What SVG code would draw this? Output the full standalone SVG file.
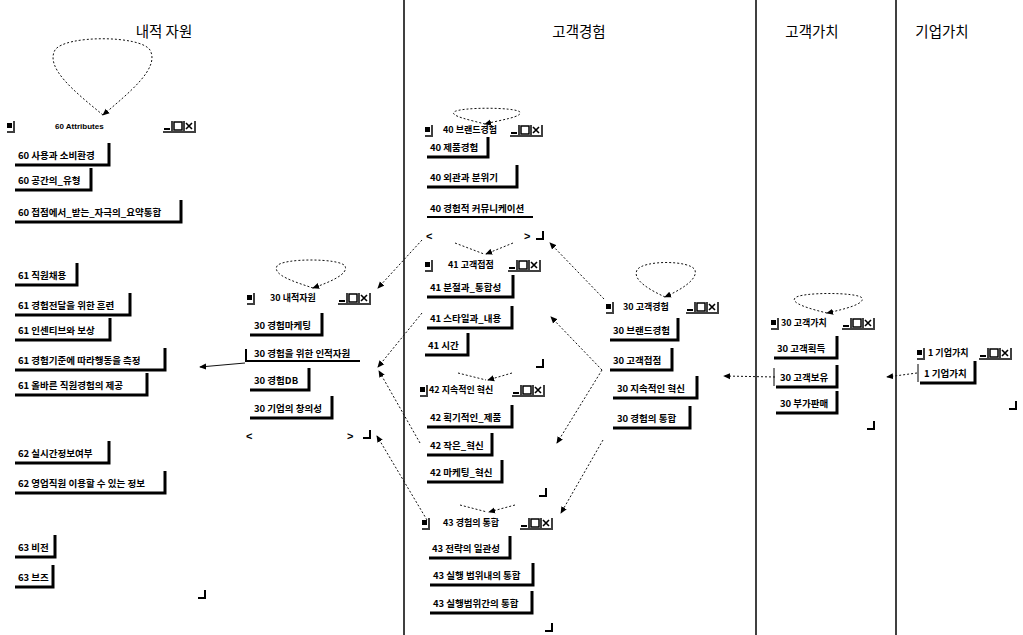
<svg xmlns="http://www.w3.org/2000/svg" width="1023" height="635" viewBox="0 0 1023 635">
<style>
.bg{fill:#fff}
.hd{font-family:"Noto Sans CJK KR","Noto Sans",sans-serif;font-size:14.5px;fill:#000}
.tt{font-family:"Noto Sans CJK KR","Noto Sans",sans-serif;font-size:9px;font-weight:bold;fill:#000}
.te{font-family:"Liberation Sans",Arial,sans-serif;font-size:8px;font-weight:bold;fill:#000}
.it{font-family:"Noto Sans CJK KR","Noto Sans",sans-serif;font-size:9.5px;font-weight:bold;fill:#000}
.sc{font-family:"Liberation Sans",Arial,sans-serif;font-size:11px;font-weight:bold;fill:#000}
.box{fill:#fff}
.sh{fill:none;stroke:#000;stroke-width:3}
.sel{fill:none;stroke:#000;stroke-width:2}
.cn{fill:none;stroke:#111;stroke-width:1;stroke-dasharray:2 2}
.sol{fill:none;stroke:#111;stroke-width:1}
.vl{stroke:#000;stroke-width:1.5}
</style>
<defs>
<marker id="ah" viewBox="0 0 8 8" refX="7" refY="4" markerWidth="7" markerHeight="7" markerUnits="userSpaceOnUse" orient="auto"><path d="M0,0.5 L8,4 L0,7.5 Z" fill="#000"/></marker>
<g id="ctl" fill="none" stroke="#000">
<path d="M1,3 H7" stroke-width="2"/>
<path d="M9,-5 V5" stroke-width="1.5"/>
<rect x="11" y="-4" width="8" height="8" stroke-width="1.5"/>
<path d="M21,-5 V5" stroke-width="1.5"/>
<path d="M23,-3 L29,3 M29,-3 L23,3" stroke-width="1.6"/>
<path d="M32,-5 V5" stroke-width="1.5"/>
<path d="M0,6 H33" stroke-width="1.5"/>
</g>
<g id="ico">
<rect x="0" y="-3" width="5" height="5" fill="#000"/>
<path d="M7,-5 V5 M0,6 H8" stroke="#000" stroke-width="1.5" fill="none"/>
</g>
<path id="cor" d="M-7,0 H0 V-8" fill="none" stroke="#000" stroke-width="2"/>
</defs>
<rect class="bg" x="0" y="0" width="1023" height="635"/>

<g id="columns">
<line class="vl" x1="404" y1="0" x2="404" y2="635"/>
<line class="vl" x1="756" y1="0" x2="756" y2="635"/>
<line class="vl" x1="896" y1="0" x2="896" y2="635"/>
<text class="hd" x="164" y="37" text-anchor="middle">내적 자원</text>
<text class="hd" x="579" y="37" text-anchor="middle">고객경험</text>
<text class="hd" x="812" y="37" text-anchor="middle">고객가치</text>
<text class="hd" x="942" y="37" text-anchor="middle">기업가치</text>
</g>

<g id="connectors">
<path class="cn" d="M103,115 C75,92 45,68 55,50 C65,35 140,35 150,50 C160,68 130,92 103,115" marker-end="url(#ah)"/>
<path class="cn" d="M313,288 C295,282 272,275 277,266 C282,258 340,258 345,266 C349,274 330,282 313,288" marker-end="url(#ah)"/>
<path class="cn" d="M485,124 C470,120 450,116 454,112 C460,107 515,107 520,112 C523,117 500,120 485,124" marker-end="url(#ah)"/>
<path class="cn" d="M665,297 C650,290 632,280 637,270 C643,260 690,260 695,270 C698,280 680,290 665,297" marker-end="url(#ah)"/>
<path class="cn" d="M827,313 C810,309 790,303 795,298 C800,292 858,292 862,298 C865,304 845,309 827,313" marker-end="url(#ah)"/>
<path class="cn" d="M455,243 L484,254"/>
<path class="cn" d="M513,243 L486,254" marker-end="url(#ah)"/>
<path class="cn" d="M458,373 L486,380"/>
<path class="cn" d="M512,373 L488,380" marker-end="url(#ah)"/>
<path class="cn" d="M460,505 L487,512"/>
<path class="cn" d="M515,505 L489,512" marker-end="url(#ah)"/>
<path class="sol" d="M245,363 L200,367" marker-end="url(#ah)"/>
<path class="cn" d="M422,240 L378,288" marker-end="url(#ah)"/>
<path class="cn" d="M422,313 L378,367" marker-end="url(#ah)"/>
<path class="cn" d="M420,443 L379,371" marker-end="url(#ah)"/>
<path class="cn" d="M427,520 L377,436" marker-end="url(#ah)"/>
<path class="cn" d="M604,299 L550,243" marker-end="url(#ah)"/>
<path class="cn" d="M602,370 L551,317" marker-end="url(#ah)"/>
<path class="cn" d="M602,370 L557,443" marker-end="url(#ah)"/>
<path class="cn" d="M603,440 L561,513" marker-end="url(#ah)"/>
<path class="cn" d="M775,377 L724,376" marker-end="url(#ah)"/>
<path class="cn" d="M917,373 L887,377" marker-end="url(#ah)"/>
</g>

<g id="w60">
<use href="#ico" x="7" y="126"/>
<text class="te" x="55" y="129">60 Attributes</text>
<use href="#ctl" x="163" y="126"/>
<g id="n60a"><rect class="box" x="14" y="145" width="95" height="20"/><path class="sh" d="M15,165 H109 V143"/><text class="it" x="18" y="159">60 사용과 소비환경</text></g>
<g id="n60b"><rect class="box" x="14" y="170" width="77" height="20"/><path class="sh" d="M15,190 H91 V168"/><text class="it" x="18" y="184">60 공간의_유형</text></g>
<g id="n60c"><rect class="box" x="14" y="202" width="167" height="20"/><path class="sh" d="M15,222 H181 V200"/><text class="it" x="18" y="216">60 접점에서_받는_자극의_요약통합</text></g>
<g id="n61a"><rect class="box" x="14" y="265" width="63" height="20"/><path class="sh" d="M15,285 H77 V263"/><text class="it" x="18" y="279">61 직원채용</text></g>
<g id="n61b"><rect class="box" x="14" y="295" width="116" height="20"/><path class="sh" d="M15,315 H130 V293"/><text class="it" x="18" y="309">61 경험전달을 위한 훈련</text></g>
<g id="n61c"><rect class="box" x="14" y="320" width="96" height="20"/><path class="sh" d="M15,340 H110 V318"/><text class="it" x="18" y="334">61 인센티브와 보상</text></g>
<g id="n61d"><rect class="box" x="14" y="350" width="151" height="20"/><path class="sh" d="M15,370 H165 V348"/><text class="it" x="18" y="364">61 경험기준에 따라행동을 측정</text></g>
<g id="n61e"><rect class="box" x="14" y="375" width="133" height="20"/><path class="sh" d="M15,395 H147 V373"/><text class="it" x="18" y="389">61 올바른 직원경험의 제공</text></g>
<g id="n62a"><rect class="box" x="14" y="443" width="95" height="20"/><path class="sh" d="M15,463 H109 V441"/><text class="it" x="18" y="457">62 실시간정보여부</text></g>
<g id="n62b"><rect class="box" x="14" y="473" width="151" height="20"/><path class="sh" d="M15,493 H165 V471"/><text class="it" x="18" y="487">62 영업직원 이용할 수 있는 정보</text></g>
<g id="n63a"><rect class="box" x="14" y="537" width="41" height="20"/><path class="sh" d="M15,557 H55 V535"/><text class="it" x="18" y="551">63 비전</text></g>
<g id="n63b"><rect class="box" x="14" y="567" width="39" height="20"/><path class="sh" d="M15,587 H53 V565"/><text class="it" x="18" y="581">63 브즈</text></g>
<use href="#cor" x="205" y="598"/>
</g>

<g id="w30in">
<use href="#ico" x="247" y="298"/>
<text class="tt" x="270" y="301">30 내적자원</text>
<use href="#ctl" x="338" y="298"/>
<g id="n30a"><rect class="box" x="249" y="315" width="73" height="20"/><path class="sh" d="M250,335 H322 V313"/><text class="it" x="254" y="329">30 경험마케팅</text></g>
<g id="n30b"><path class="sel" d="M246,349 V361 H360"/><text class="it" x="254" y="357">30 경험을 위한 인적자원</text></g>
<g id="n30c"><rect class="box" x="249" y="370" width="60" height="20"/><path class="sh" d="M250,390 H309 V368"/><text class="it" x="254" y="384">30 경험DB</text></g>
<g id="n30d"><rect class="box" x="249" y="398" width="83" height="20"/><path class="sh" d="M250,418 H332 V396"/><text class="it" x="254" y="412">30 기업의 창의성</text></g>
<text class="sc" x="246" y="440">&lt;</text>
<text class="sc" x="347" y="440">&gt;</text>
<use href="#cor" x="370" y="438"/>
</g>

<g id="w40">
<use href="#ico" x="425" y="130"/>
<text class="tt" x="443" y="133">40 브랜드경험</text>
<use href="#ctl" x="510" y="130"/>
<g id="n40a"><rect class="box" x="426" y="138" width="62" height="19"/><path class="sh" d="M427,157 H488 V137"/><text class="it" x="430" y="151">40 제품경험</text></g>
<g id="n40b"><rect class="box" x="426" y="167" width="91" height="20"/><path class="sh" d="M427,187 H517 V165"/><text class="it" x="430" y="181">40 외관과 분위기</text></g>
<g id="n40c"><path class="sel" d="M427,217 H533"/><text class="it" x="430" y="212">40 경험적 커뮤니케이션</text></g>
<text class="sc" x="426" y="240">&lt;</text>
<text class="sc" x="524" y="240">&gt;</text>
<use href="#cor" x="543" y="239"/>
</g>

<g id="w41">
<use href="#ico" x="425" y="265"/>
<text class="tt" x="448" y="268">41 고객접점</text>
<use href="#ctl" x="508" y="265"/>
<g id="n41a"><rect class="box" x="426" y="277" width="87" height="20"/><path class="sh" d="M427,297 H513 V275"/><text class="it" x="430" y="291">41 분절과_통합성</text></g>
<g id="n41b"><rect class="box" x="426" y="308" width="86" height="20"/><path class="sh" d="M427,328 H512 V306"/><text class="it" x="430" y="322">41 스타일과_내용</text></g>
<g id="n41c"><rect class="box" x="424" y="335" width="44" height="20"/><path class="sh" d="M425,355 H468 V333"/><text class="it" x="428" y="349">41 시간</text></g>
<use href="#cor" x="543" y="367"/>
</g>

<g id="w42">
<use href="#ico" x="420" y="390"/>
<text class="tt" x="429" y="393">42 지속적인 혁신</text>
<use href="#ctl" x="512" y="390"/>
<g id="n42a"><rect class="box" x="426" y="407" width="86" height="20"/><path class="sh" d="M427,427 H512 V405"/><text class="it" x="430" y="421">42 획기적인_제품</text></g>
<g id="n42b"><rect class="box" x="426" y="435" width="66" height="20"/><path class="sh" d="M427,455 H492 V433"/><text class="it" x="430" y="449">42 작은_혁신</text></g>
<g id="n42c"><rect class="box" x="426" y="462" width="76" height="20"/><path class="sh" d="M427,482 H502 V460"/><text class="it" x="430" y="476">42 마케팅_혁신</text></g>
<use href="#cor" x="546" y="496"/>
</g>

<g id="w43">
<use href="#ico" x="422" y="523"/>
<text class="tt" x="443" y="526">43 경험의 통합</text>
<use href="#ctl" x="520" y="523"/>
<g id="n43a"><rect class="box" x="428" y="538" width="82" height="20"/><path class="sh" d="M429,558 H510 V536"/><text class="it" x="432" y="552">43 전략의 일관성</text></g>
<g id="n43b"><rect class="box" x="429" y="565" width="104" height="20"/><path class="sh" d="M430,585 H533 V563"/><text class="it" x="433" y="579">43 실행 범위내의 통합</text></g>
<g id="n43c"><rect class="box" x="429" y="593" width="103" height="20"/><path class="sh" d="M430,613 H532 V591"/><text class="it" x="433" y="607">43 실행범위간의 통합</text></g>
<use href="#cor" x="552" y="631"/>
</g>

<g id="w30cx">
<use href="#ico" x="606" y="307"/>
<text class="tt" x="623" y="310">30 고객경험</text>
<use href="#ctl" x="686" y="307"/>
<g id="n30cxa"><rect class="box" x="609" y="320" width="69" height="20"/><path class="sh" d="M610,340 H678 V318"/><text class="it" x="613" y="334">30 브랜드경험</text></g>
<g id="n30cxb"><rect class="box" x="609" y="350" width="63" height="20"/><path class="sh" d="M610,370 H672 V348"/><text class="it" x="613" y="364">30 고객접점</text></g>
<g id="n30cxc"><rect class="box" x="612" y="378" width="85" height="20"/><path class="sh" d="M613,398 H697 V376"/><text class="it" x="617" y="392">30 지속적인 혁신</text></g>
<g id="n30cxd"><rect class="box" x="612" y="408" width="78" height="20"/><path class="sh" d="M613,428 H690 V406"/><text class="it" x="617" y="422">30 경험의 통합</text></g>
</g>

<g id="w30cv">
<use href="#ico" x="771" y="323"/>
<text class="tt" x="781" y="326">30 고객가치</text>
<use href="#ctl" x="842" y="323"/>
<g id="n30cva"><rect class="box" x="773" y="338" width="64" height="20"/><path class="sh" d="M774,358 H837 V336"/><text class="it" x="777" y="352">30 고객획득</text></g>
<g id="n30cvb"><rect class="box" x="775" y="367" width="62" height="20"/><path class="sh" d="M776,387 H837 V365"/><path d="M774,368 V386" stroke="#000" stroke-width="1" fill="none"/><text class="it" x="780" y="381">30 고객보유</text></g>
<g id="n30cvc"><rect class="box" x="775" y="393" width="62" height="20"/><path class="sh" d="M776,413 H837 V391"/><text class="it" x="780" y="407">30 부가판매</text></g>
<use href="#cor" x="874" y="429"/>
</g>

<g id="w1">
<use href="#ico" x="917" y="353"/>
<text class="tt" x="928" y="356">1 기업가치</text>
<use href="#ctl" x="979" y="353"/>
<g id="n1a"><rect class="box" x="919" y="363" width="56" height="20"/><path class="sh" d="M920,383 H975 V361"/><path d="M918,364 V382" stroke="#000" stroke-width="1" fill="none"/><text class="it" x="924" y="377">1 기업가치</text></g>
<use href="#cor" x="1016" y="409"/>
</g>
</svg>
